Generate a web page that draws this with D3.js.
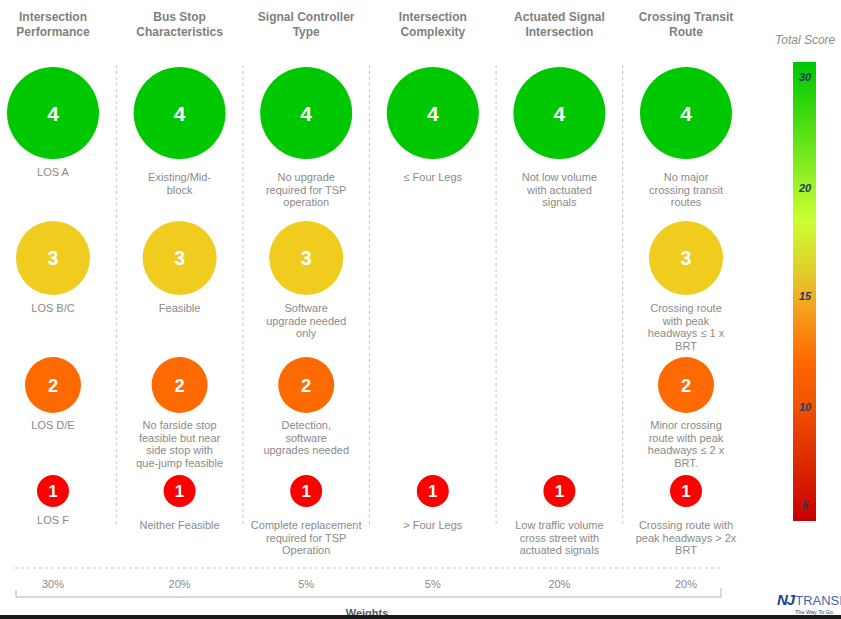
<!DOCTYPE html>
<meta charset="utf-8">
<style>
body { margin: 0; background: #fff; }
svg { display: block; font-family: Arial, "Liberation Sans", sans-serif; }
.header { font-weight: bold; font-size: 12px; fill: #808080; }
.opt { font-size: 11px; fill: #8a8a8a; }
.num { font-weight: bold; fill: #fff; }
.weight { font-size: 11px; fill: #8a8a8a; }
.tick { font-weight: bold; font-style: italic; font-size: 11px; fill: #1f3864; }
</style>
<svg width="841" height="619"></svg>
<script src="https://d3js.org/d3.v7.min.js"></script>
<script>

// criteria headers (two lines each)
var criteria = ["Intersection|Performance", "Bus Stop|Characteristics", "Signal Controller|Type",
                "Intersection|Complexity", "Actuated Signal|Intersection", "Crossing Transit|Route"]

var weights = ["30%", "20%", "5%", "5%", "20%", "20%"]

// score options for each criterion: [score, label]
var perfOptions = [[4, "LOS A"], [3, "LOS B/C"], [2, "LOS D/E"], [1, "LOS F"]]
var busStopOptions = [[4, "Existing/Mid-|block"], [3, "Feasible"],
                      [2, "No farside stop|feasible but near|side stop with|que-jump feasible"],
                      [1, "Neither Feasible"]]
var controllerOptions = [[4, "No upgrade|required for TSP|operation"], [3, "Software|upgrade needed|only"],
                         [2, "Detection,|software|upgrades needed"],
                         [1, "Complete replacement|required for TSP|Operation"]]
var complexityOptions = [[4, "≤ Four Legs"], [1, "> Four Legs"]]
var actuatedOptions = [[4, "Not low volume|with actuated|signals"],
                       [1, "Low traffic volume|cross street with|actuated signals"]]
var transitOptions = [[4, "No major|crossing transit|routes"], [3, "Crossing route|with peak|headways ≤ 1 x|BRT"],
                      [2, "Minor crossing|route with peak|headways ≤ 2 x|BRT."],
                      [1, "Crossing route with|peak headways > 2x|BRT"]]

var optionsByCriterion = [perfOptions, busStopOptions, controllerOptions,
                          complexityOptions, actuatedOptions, transitOptions]

var scores = [4, 3, 2, 1]
var scoreColors = ["#00c800", "#f0cc1e", "#ff6a00", "#ff0000"]

// total score legend
var legendTicks = [30, 20, 15, 10, 5]

var svg = d3.select("svg")

var x = d3.scalePoint().domain(criteria).range([53, 686])
var r = d3.scaleLinear().domain([1, 2, 4]).range([16, 28, 46])
var fontSize = d3.scaleLinear().domain([1, 4]).range([17, 21])
var color = d3.scaleOrdinal().domain(scores).range(scoreColors)

// stack rows: each circle sits a fixed gap under the previous one
var rowGap = 62
var rowY = {}
var yy = 113 - r(4)
scores.forEach(function(s, i) {
  if (i > 0) yy += rowGap
  rowY[s] = yy + r(s)
  yy += 2 * r(s)
})
var labelGap = d3.scaleOrdinal().domain(scores).range([22, 17, 16, 22])

// headers
svg.selectAll(".header")
  .data(criteria)
  .enter().append("text")
  .attr("class", "header")
  .attr("text-anchor", "middle")
  .attr("transform", function(d) { return "translate(" + x(d) + ",21)" })
  .selectAll("tspan")
  .data(function(d) { return d.split("|") })
  .enter().append("tspan")
  .attr("x", 0)
  .attr("dy", function(d, i) { return i ? 15 : 0 })
  .text(function(d) { return d })

// dashed separators between columns
var step = x.step()
svg.selectAll(".sep")
  .data(criteria.slice(1))
  .enter().append("line")
  .attr("x1", function(d) { return x(d) - step / 2 })
  .attr("x2", function(d) { return x(d) - step / 2 })
  .attr("y1", 65).attr("y2", 527)
  .style("stroke", "#c4c4c4")
  .style("stroke-dasharray", "3,3")

// columns of score circles
var col = svg.selectAll(".col")
  .data(criteria)
  .enter().append("g")
  .attr("transform", function(d) { return "translate(" + x(d) + ",0)" })

var opt = col.selectAll(".opt-g")
  .data(function(d, i) { return optionsByCriterion[i].map(function(o) { return [o[0], o[1], i] }) })
  .enter().append("g")

opt.append("circle")
  .attr("cy", function(d) { return rowY[d[0]] })
  .attr("r", function(d) { return r(d[0]) })
  .style("fill", function(d) { return color(d[0]) })

opt.append("text")
  .attr("class", "num")
  .attr("text-anchor", "middle")
  .attr("y", function(d) { return rowY[d[0]] })
  .attr("dy", "0.36em")
  .style("font-size", function(d) { return fontSize(d[0]) + "px" })
  .text(function(d) { return d[0] })

// first column's one-line labels sit a little higher
opt.append("text")
  .attr("class", "opt")
  .attr("text-anchor", "middle")
  .attr("transform", function(d) {
    var off = (d[2] === 0 && (d[0] === 4 || d[0] === 1)) ? -5 : 0
    return "translate(0," + (rowY[d[0]] + r(d[0]) + labelGap(d[0]) + off) + ")"
  })
  .selectAll("tspan")
  .data(function(d) { return d[1].split("|") })
  .enter().append("tspan")
  .attr("x", 0)
  .attr("dy", function(d, i) { return i ? 12.5 : 0 })
  .text(function(d) { return d })

// weights row
svg.append("line")
  .attr("x1", 15).attr("x2", 721).attr("y1", 568).attr("y2", 568)
  .style("stroke", "#c4c4c4").style("stroke-dasharray", "3,3")

svg.selectAll(".weight")
  .data(weights)
  .enter().append("text")
  .attr("class", "weight")
  .attr("text-anchor", "middle")
  .attr("x", function(d, i) { return x(criteria[i]) })
  .attr("y", 588)
  .text(function(d) { return d })

svg.append("path")
  .attr("d", "M16,590V597H721V588")
  .style("fill", "none").style("stroke", "#b0b0b0")

svg.append("text")
  .attr("x", 367).attr("y", 617)
  .attr("text-anchor", "middle")
  .style("font-size", "11px").style("font-weight", "bold").style("fill", "#595959")
  .text("Weights")

// total score colour bar
var ly = d3.scaleLinear().domain([5, 10, 15, 20, 30]).range([505, 407, 296, 188, 77])
var barTop = 62, barBottom = 521
var gradStops = [[31, "#00c800"], [18.5, "#ccff33"], [16, "#e2c92a"], [14.5, "#f5a21f"],
                 [12, "#ff6600"], [10, "#f05200"], [6.5, "#d82200"], [4.2, "#c80000"]]

var grad = svg.append("defs").append("linearGradient")
  .attr("id", "scoreGrad")
  .attr("x1", 0).attr("x2", 0).attr("y1", 0).attr("y2", 1)
grad.selectAll("stop")
  .data(gradStops)
  .enter().append("stop")
  .attr("offset", function(d) { return Math.max(0, Math.min(1, (ly(d[0]) - barTop) / (barBottom - barTop))) })
  .attr("stop-color", function(d) { return d[1] })

svg.append("rect")
  .attr("x", 793).attr("y", barTop)
  .attr("width", 23).attr("height", barBottom - barTop)
  .style("fill", "url(#scoreGrad)")

svg.selectAll(".tick")
  .data(legendTicks)
  .enter().append("text")
  .attr("class", "tick")
  .attr("text-anchor", "middle")
  .attr("x", 805)
  .attr("y", function(d) { return ly(d) })
  .attr("dy", "0.35em")
  .text(function(d) { return d })

svg.append("text")
  .attr("x", 775).attr("y", 44)
  .style("font-size", "12px").style("font-style", "italic").style("fill", "#8c8c8c")
  .text("Total Score")

// logo, partly outside the right edge as in the source
var logo = svg.append("text")
  .attr("x", 777).attr("y", 605)
logo.append("tspan")
  .style("font-size", "15px").style("font-weight", "bold").style("font-style", "italic")
  .style("fill", "#1d3f8a").style("letter-spacing", "-1px")
  .text("NJ")
logo.append("tspan")
  .attr("dx", 1)
  .style("font-size", "13px").style("fill", "#3f66b0")
  .text("TRANSIT")
svg.append("text")
  .attr("x", 795).attr("y", 614)
  .style("font-size", "5.5px").style("fill", "#1d3f8a")
  .text("The Way To Go.")

// dark strip along bottom edge
svg.append("rect")
  .attr("x", 0).attr("y", 615).attr("width", 841).attr("height", 4)
  .style("fill", "#1a1a1a")

</script>
</html>
